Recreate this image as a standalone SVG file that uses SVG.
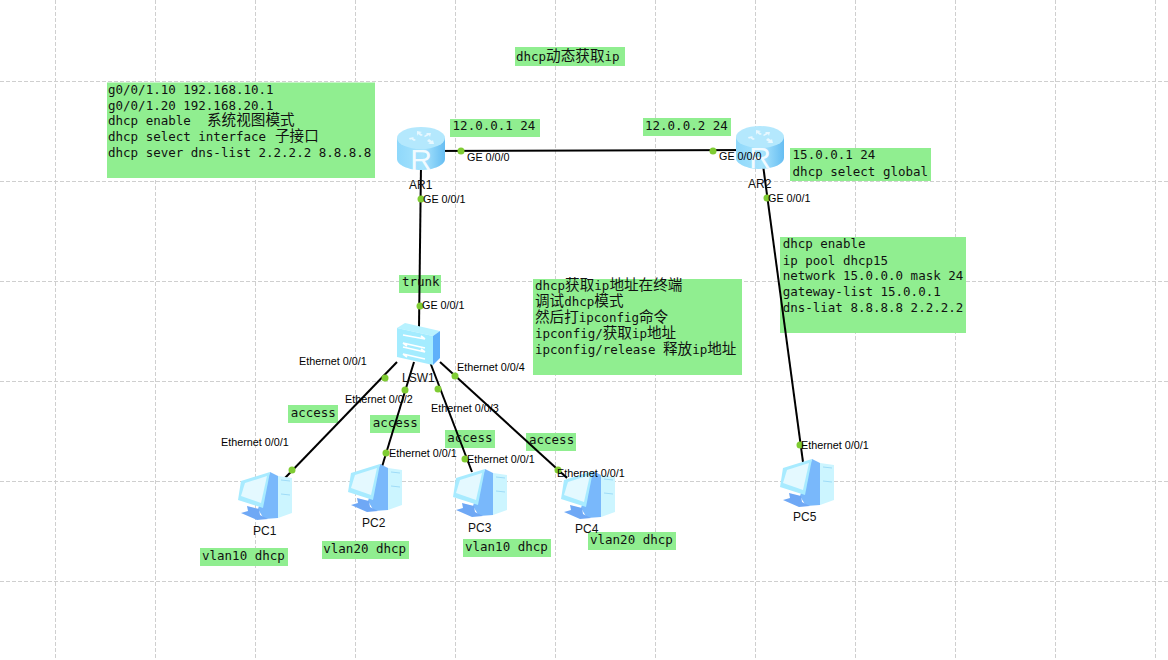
<svg xmlns="http://www.w3.org/2000/svg" width="1168" height="660" viewBox="0 0 1168 660">
<style>
.grid{stroke:#cfcfcf;stroke-width:1;stroke-dasharray:4 2;fill:none}
.box{fill:#90ee90}
.t{font-family:"DejaVu Sans Mono","Noto Sans CJK SC",monospace;font-size:12.5px;fill:#111}
.c{font-family:"Noto Sans CJK SC",sans-serif;font-size:14.6px}
.l{font-family:"Liberation Sans",Arial,sans-serif;font-size:10.8px;fill:#000}
.n{font-family:"Liberation Sans",Arial,sans-serif;font-size:12px;fill:#111}
.link{stroke:#000;stroke-width:2;fill:none}
.dot{fill:#7fcc33}
.r{font-family:"Liberation Sans",Arial,sans-serif;font-size:30px;fill:#f2fbff;text-anchor:middle}
</style>
<defs>
<linearGradient id="rb" x1="0" x2="1" y1="0" y2="0"><stop offset="0" stop-color="#8fd8fb"/><stop offset="0.55" stop-color="#a8e4fd"/><stop offset="1" stop-color="#66bdf2"/></linearGradient>
<g id="router">
<path d="M0 11V32C0 38 11 43 24 43S48 38 48 32V11Z" fill="url(#rb)"/>
<ellipse cx="24" cy="11" rx="24" ry="11" fill="#b4e8fd"/>
<path d="M20 4l5 1-2 1 3 2-2 1-3-2-1 2zM34 6l-1 4-1-2-4 2-1-1 3-2-1-1zM12 11l5-1-1 1 3 2-2 1-3-2-1 1zM32 12l3 2 1-1 1 4-6 0 2-1-3-2z" fill="#e8f8ff"/>
</g>
<g id="switch">
<path d="M0 5L8 0 43 8 36 13Z" fill="#b8f2ff"/>
<path d="M0 5L36 13V42L0 34Z" fill="#a4ecff"/>
<path d="M36 13L43 8V35L36 42Z" fill="#5fb0fa"/>
<path d="M6 12L28 16 M28 16l-4-3 M6 20L28 25M6 20l4 3M6 24L28 29M28 29l-4-3M6 31L28 36M6 31l4 3" stroke="#fff" stroke-width="1.6" fill="none"/>
</g>
<g id="pc">
<path d="M50 13L64 15V50L50 55Z" fill="#ccf5ff"/>
<path d="M42 9L50 13V55L36 56 30 46Z" fill="#79b8fb"/>
<path d="M53 17L62 18M53 31L62 32" stroke="#9fdcf8" stroke-width="1" fill="none"/>
<path d="M19 43L31 46 32 52 40 56 29 57 13 50 20 48Z" fill="#6fa8f5"/>
<path d="M13 18L42 9 35 45 10 37Z" fill="#a8ebff"/>
<path d="M17 20L39 13 33 40 13 33Z" fill="#e4f9ff"/>
</g>
</defs>
<g id="grid">
<path class="grid" d="M55.5 0V660M155.5 0V660M255.5 0V660M355.5 0V660M455.5 0V660M555.5 0V660M655.5 0V660M755.5 0V660M855.5 0V660M955.5 0V660M1055.5 0V660M1155.5 0V660M0 81.5H1168M0 181.5H1168M0 281.5H1168M0 381.5H1168M0 481.5H1168M0 581.5H1168"/>
</g>
<g id="note-boxes">
<rect class="box" x="515" y="47" width="110" height="19"/>
<rect class="box" x="107" y="82.5" width="268" height="95.5"/>
<rect class="box" x="450" y="119" width="90" height="18"/>
<rect class="box" x="643" y="118" width="88" height="18"/>
<rect class="box" x="790" y="148" width="141" height="33"/>
<rect class="box" x="780" y="237" width="186" height="96"/>
<rect class="box" x="533" y="279" width="209" height="96"/>
<rect class="box" x="399" y="275" width="42" height="18"/>
<rect class="box" x="288" y="405" width="50" height="18"/>
<rect class="box" x="370" y="415" width="50" height="18"/>
<rect class="box" x="445" y="430" width="50" height="18"/>
<rect class="box" x="526" y="433" width="50" height="18"/>
<rect class="box" x="200" y="548" width="88" height="18"/>
<rect class="box" x="322" y="541" width="87" height="18"/>
<rect class="box" x="463" y="539" width="88" height="18"/>
<rect class="box" x="588" y="532" width="88" height="18"/>
</g>
<g id="connectors">
<path class="link" d="M421 151L756 150"/>
<path class="link" d="M421 165L419 328"/>
<path class="link" d="M763 165L803 462"/>
<path class="link" d="M397 362L285 478"/>
<path class="link" d="M414 362L381 470"/>
<path class="link" d="M430 362L472 472"/>
<path class="link" d="M440 362L567 478"/>
</g>
<g id="AR1"><use href="#router" x="397" y="127"/><text class="r" x="421" y="170">R</text><text class="n" x="409" y="189">AR1</text></g>
<g id="AR2"><use href="#router" x="736" y="126"/><text class="r" x="760" y="168">R</text><text class="n" x="748" y="188">AR2</text></g>
<g id="LSW1"><use href="#switch" x="397" y="323"/><text class="n" x="402" y="382">LSW1</text></g>
<g id="PC1"><use href="#pc" x="228" y="463"/><text class="n" x="253" y="535">PC1</text></g>
<g id="PC2"><use href="#pc" x="338" y="455"/><text class="n" x="362" y="527">PC2</text></g>
<g id="PC3"><use href="#pc" x="443" y="460"/><text class="n" x="468" y="532">PC3</text></g>
<g id="PC4"><use href="#pc" x="551" y="462"/><text class="n" x="575" y="533">PC4</text></g>
<g id="PC5"><use href="#pc" x="770" y="450"/><text class="n" x="793" y="521">PC5</text></g>
<g id="ports">
<circle class="dot" cx="461" cy="151" r="3.5"/><circle class="dot" cx="713" cy="151" r="3.5"/>
<circle class="dot" cx="421" cy="199" r="3.5"/><circle class="dot" cx="767" cy="198" r="3.5"/>
<circle class="dot" cx="420" cy="306" r="3.5"/><circle class="dot" cx="385" cy="378" r="3.5"/>
<circle class="dot" cx="405" cy="390" r="3.5"/><circle class="dot" cx="438" cy="389" r="3.5"/>
<circle class="dot" cx="455" cy="376" r="3.5"/><circle class="dot" cx="292" cy="470" r="3.5"/>
<circle class="dot" cx="386" cy="453" r="3.5"/><circle class="dot" cx="465" cy="459" r="3.5"/>
<circle class="dot" cx="558" cy="470" r="3.5"/><circle class="dot" cx="800" cy="445" r="3.5"/>
</g>
<g id="port-labels">
<text class="l" x="467" y="161">GE 0/0/0</text>
<text class="l" x="719" y="160">GE 0/0/0</text>
<text class="l" x="423" y="203">GE 0/0/1</text>
<text class="l" x="768" y="202">GE 0/0/1</text>
<text class="l" x="422" y="309">GE 0/0/1</text>
<text class="l" x="299" y="365">Ethernet 0/0/1</text>
<text class="l" x="345" y="403">Ethernet 0/0/2</text>
<text class="l" x="431" y="412">Ethernet 0/0/3</text>
<text class="l" x="457" y="371">Ethernet 0/0/4</text>
<text class="l" x="221" y="446">Ethernet 0/0/1</text>
<text class="l" x="389" y="457">Ethernet 0/0/1</text>
<text class="l" x="467" y="463">Ethernet 0/0/1</text>
<text class="l" x="557" y="477">Ethernet 0/0/1</text>
<text class="l" x="801" y="449">Ethernet 0/0/1</text>
</g>
<g id="notes">
<text class="t" x="516" y="61">dhcp<tspan class="c">动态获取</tspan>ip</text>
<text class="t" x="108" y="94">g0/0/1.10 192.168.10.1</text>
<text class="t" x="108" y="110">g0/0/1.20 192.168.20.1</text>
<text class="t" x="108" y="125">dhcp enable</text><text class="t c" x="207" y="125">系统视图模式</text>
<text class="t" x="108" y="141">dhcp select interface</text><text class="t c" x="275" y="141">子接口</text>
<text class="t" x="108" y="157">dhcp sever dns-list 2.2.2.2 8.8.8.8</text>
<text class="t" x="452.6" y="130">12.0.0.1 24</text>
<text class="t" x="645" y="130">12.0.0.2 24</text>
<text class="t" x="792.6" y="159">15.0.0.1 24</text>
<text class="t" x="792.6" y="175.6">dhcp select global</text>
<text class="t" x="782.7" y="248">dhcp enable</text>
<text class="t" x="782.7" y="265">ip pool dhcp15</text>
<text class="t" x="782.7" y="280">network 15.0.0.0 mask 24</text>
<text class="t" x="782.7" y="296">gateway-list 15.0.0.1</text>
<text class="t" x="782.7" y="312">dns-liat 8.8.8.8 2.2.2.2</text>
<text class="t" x="535" y="290">dhcp<tspan class="c">获取</tspan>ip<tspan class="c">地址在终端</tspan></text>
<text class="t" x="535" y="306"><tspan class="c">调试</tspan>dhcp<tspan class="c">模式</tspan></text>
<text class="t" x="535" y="322"><tspan class="c">然后打</tspan>ipconfig<tspan class="c">命令</tspan></text>
<text class="t" x="535" y="338">ipconfig/<tspan class="c">获取</tspan>ip<tspan class="c">地址</tspan></text>
<text class="t" x="535" y="354">ipconfig/release <tspan class="c">释放</tspan>ip<tspan class="c">地址</tspan></text>
<text class="t" x="402" y="286">trunk</text>
<text class="t" x="290.7" y="417">access</text>
<text class="t" x="372.7" y="427">access</text>
<text class="t" x="447.3" y="442">access</text>
<text class="t" x="529" y="444">access</text>
<text class="t" x="202" y="560">vlan10 dhcp</text>
<text class="t" x="323.3" y="553">vlan20 dhcp</text>
<text class="t" x="465" y="551">vlan10 dhcp</text>
<text class="t" x="590" y="544">vlan20 dhcp</text>
</g>
</svg>
